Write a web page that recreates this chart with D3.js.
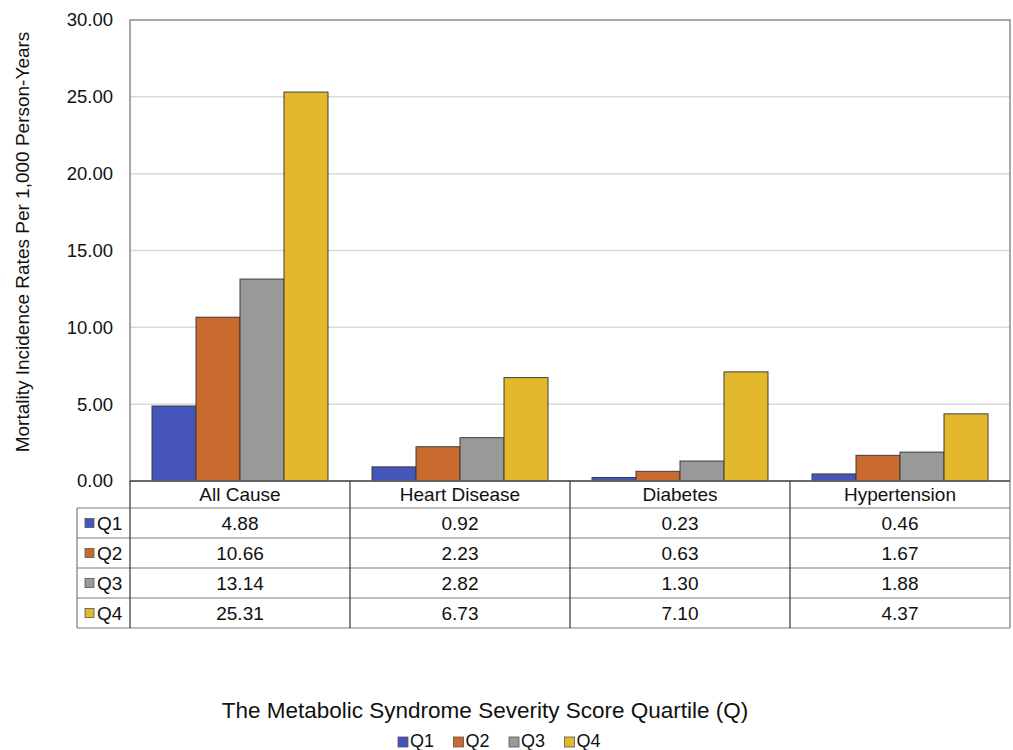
<!DOCTYPE html>
<html><head><meta charset="utf-8">
<script src="https://cdn.jsdelivr.net/npm/d3@7"></script>
<style>body{margin:0;background:#fff}svg{display:block;font-family:"Liberation Sans",Arial,sans-serif}</style>
</head><body><svg id="c" width="1013" height="750"></svg>
<script>
const categories = ["All Cause","Heart Disease","Diabetes","Hypertension"];
const seriesNames = ["Q1","Q2","Q3","Q4"];
const q1 = [4.88,0.92,0.23,0.46];
const q2 = [10.66,2.23,0.63,1.67];
const q3 = [13.14,2.82,1.30,1.88];
const q4 = [25.31,6.73,7.10,4.37];
const yTicks = [0,5,10,15,20,25,30];
const colors = ["#4655b9","#c96b2f","#999999","#e3b82a"];
const values = [q1,q2,q3,q4];

const svg = d3.select("#c");
const L=130,R=1010,T=20,B=481;
const x = d3.scaleBand().domain(categories).range([L,R]);
const xs = d3.scaleBand().domain(seriesNames).range([0,x.bandwidth()]).paddingOuter(0.5).paddingInner(0);
const y = d3.scaleLinear().domain([0,30]).range([B,T]);
const fmt = d3.format(".2f");

// gridlines
svg.append("g").selectAll("line").data(yTicks.filter(d=>d>0&&d<30)).join("line")
  .attr("x1",L).attr("x2",R).attr("y1",d=>y(d)).attr("y2",d=>y(d))
  .attr("stroke","#d9d9d9").attr("stroke-width",1.5);

// bars
seriesNames.forEach((s,i)=>{
  svg.append("g").selectAll("rect").data(categories).join("rect")
    .attr("x",c=>x(c)+xs(s)).attr("width",xs.bandwidth())
    .attr("y",(c,j)=>y(values[i][j])).attr("height",(c,j)=>B-y(values[i][j]))
    .attr("fill",colors[i]).attr("stroke","#3d3d3d").attr("stroke-width",1);
});

// plot frame
svg.append("rect").attr("x",L).attr("y",T).attr("width",R-L).attr("height",B-T)
  .attr("fill","none").attr("stroke","#8c8c8c").attr("stroke-width",1.5);

// y axis labels
const ya = d3.axisLeft(y).tickValues(yTicks).tickFormat(fmt).tickSize(0).tickPadding(17);
const yg = svg.append("g").attr("transform",`translate(${L},0)`).call(ya);
yg.select(".domain").remove();
yg.selectAll("text").attr("font-size",18.5).attr("fill","#111").attr("font-family","Liberation Sans, Arial, sans-serif");

// y title
svg.append("text").attr("transform","translate(29,242) rotate(-90)").attr("text-anchor","middle")
  .attr("font-size",19).attr("fill","#111").text("Mortality Incidence Rates Per 1,000 Person-Years");

// data table
const TL=77, headerBottom=508;
const rowY = d3.scaleBand().domain(seriesNames).range([headerBottom,628]);
const tg = svg.append("g");
tg.selectAll("text.h").data(categories).join("text").attr("class","h")
  .attr("x",c=>x(c)+x.bandwidth()/2).attr("y",501)
  .attr("text-anchor","middle").attr("font-size",19).attr("fill","#111").text(c=>c);
tg.append("line").attr("x1",L).attr("x2",R).attr("y1",B).attr("y2",B).attr("stroke","#555").attr("stroke-width",1.5);
seriesNames.forEach(s=>{
  tg.append("line").attr("x1",TL).attr("x2",R).attr("y1",rowY(s)).attr("y2",rowY(s)).attr("stroke","#7a7a7a").attr("stroke-width",1.2);
});
tg.append("line").attr("x1",TL).attr("x2",R).attr("y1",628).attr("y2",628).attr("stroke","#7a7a7a").attr("stroke-width",1.2);
tg.append("line").attr("x1",TL).attr("x2",TL).attr("y1",headerBottom).attr("y2",628).attr("stroke","#7a7a7a").attr("stroke-width",1.2);
categories.forEach(c=>{
  tg.append("line").attr("x1",x(c)).attr("x2",x(c)).attr("y1",B).attr("y2",628).attr("stroke","#333").attr("stroke-width",1.2);
});
tg.append("line").attr("x1",R).attr("x2",R).attr("y1",B).attr("y2",628).attr("stroke","#7a7a7a").attr("stroke-width",1.2);
seriesNames.forEach((s,i)=>{
  const cy = rowY(s)+rowY.bandwidth()/2;
  tg.append("rect").attr("x",85).attr("y",cy-4.5).attr("width",9).attr("height",9)
    .attr("fill",colors[i]).attr("stroke","#555").attr("stroke-width",0.8);
  tg.append("text").attr("x",97).attr("y",cy+7).attr("font-size",19).attr("fill","#111").text(s);
  tg.selectAll(null).data(categories).join("text")
    .attr("x",c=>x(c)+x.bandwidth()/2).attr("y",cy+7).attr("text-anchor","middle")
    .attr("font-size",19).attr("fill","#111").text((c,j)=>fmt(values[i][j]));
});

// x title
svg.append("text").attr("x",485).attr("y",718).attr("text-anchor","middle")
  .attr("font-size",22.5).attr("fill","#111").text("The Metabolic Syndrome Severity Score Quartile (Q)");

// legend
const lg = svg.append("g");
seriesNames.forEach((s,i)=>{
  const lx = 398 + i*55.5;
  lg.append("rect").attr("x",lx).attr("y",737).attr("width",10).attr("height",10)
    .attr("fill",colors[i]).attr("stroke","#555").attr("stroke-width",0.8);
  lg.append("text").attr("x",lx+12).attr("y",747).attr("font-size",18).attr("fill","#111").text(s);
});
</script></body></html>
